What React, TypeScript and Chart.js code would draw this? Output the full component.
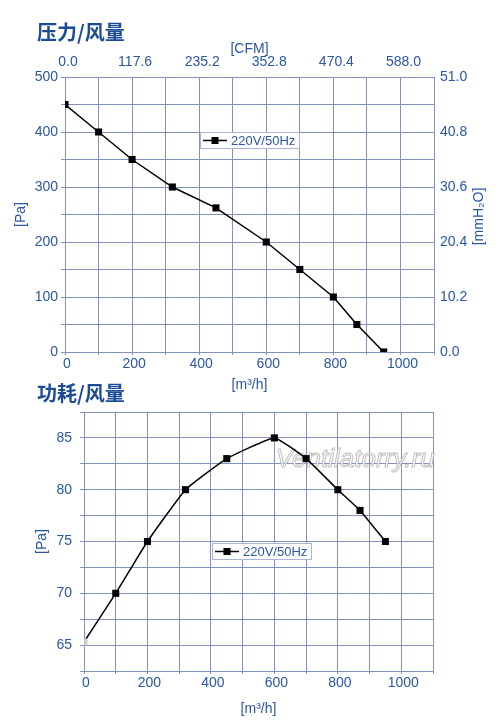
import React, { useEffect, useRef } from "react";
import { Chart, registerables } from "chart.js";

Chart.register(...registerables);

// ---------- data ----------
const pressureFlowM3h = [0, 100, 200, 320, 450, 600, 700, 800, 870, 950];
const pressurePa = [450, 400, 350, 300, 262, 200, 150, 100, 50, 0];
const powerFlowM3h = [0, 100, 200, 320, 450, 600, 700, 800, 870, 950];
const powerValues = [65.3, 70, 75, 80, 83, 85, 83, 80, 78, 75];
const seriesLabel = "220V/50Hz";
const cfmTickPositionsM3h = [0, 200, 400, 600, 800, 1000];
const cfmTickLabels = ["0.0", "117.6", "235.2", "352.8", "470.4", "588.0"];
const mmH2OTicks = [0, 10.2, 20.4, 30.6, 40.8, 51.0];

// ---------- styles ----------
const FONT = '"Liberation Sans", Arial, Helvetica, sans-serif';
const TICK_COLOR = "#2a56a6";
const TITLE_COLOR = "#1c4b98";
const GRID_COLOR = "#8391bd";

const legendBoxPlugin = {
  id: "legendBox",
  afterDraw(chart: any, _args: any, opts: any) {
    const { ctx, chartArea: a } = chart;
    const ds = chart.data.datasets[0];
    const x = Math.round(a.left + opts.fx * (a.right - a.left));
    const y = Math.round(a.top + opts.fy * (a.bottom - a.top));
    ctx.save();
    ctx.font = `13px ${FONT}`;
    const tw = ctx.measureText(ds.label).width;
    const w = Math.round(3 + 24 + 4 + tw + 4);
    const h = 16;
    ctx.fillStyle = "#ffffff";
    ctx.fillRect(x, y, w, h);
    ctx.strokeStyle = "#a8b6da";
    ctx.lineWidth = 1;
    ctx.strokeRect(x + 0.5, y + 0.5, w, h);
    ctx.strokeStyle = "#000";
    ctx.lineWidth = 1.5;
    ctx.beginPath();
    ctx.moveTo(x + 3, y + h / 2 + 0.5);
    ctx.lineTo(x + 27, y + h / 2 + 0.5);
    ctx.stroke();
    ctx.fillStyle = "#000";
    ctx.fillRect(x + 15 - 3.5, y + h / 2 + 0.5 - 3.5, 7, 7);
    ctx.fillStyle = TICK_COLOR;
    ctx.textBaseline = "middle";
    ctx.textAlign = "left";
    ctx.fillText(ds.label, x + 31, y + h / 2 + 1);
    ctx.restore();
  },
};

const rightTitlePlugin = {
  id: "rightTitle",
  afterDraw(chart: any, _args: any, opts: any) {
    if (!opts || !opts.text) return;
    const { ctx, chartArea: a } = chart;
    ctx.save();
    ctx.translate(a.right + opts.offset, (a.top + a.bottom) / 2 + 2);
    ctx.rotate(-Math.PI / 2);
    ctx.font = `14px ${FONT}`;
    ctx.fillStyle = TICK_COLOR;
    ctx.textAlign = "center";
    ctx.textBaseline = "middle";
    ctx.fillText(opts.text, 0, 0);
    ctx.restore();
  },
};

const watermarkPlugin = {
  id: "watermark",
  beforeDatasetsDraw(chart: any, _args: any, opts: any) {
    if (!opts || !opts.text) return;
    const { ctx, chartArea: a } = chart;
    const x = a.left + opts.fx * (a.right - a.left);
    const y = a.top + opts.fy * (a.bottom - a.top);
    ctx.save();
    ctx.font = `italic 26px ${FONT}`;
    ctx.textAlign = "center";
    ctx.textBaseline = "middle";
    ctx.fillStyle = "rgba(255,255,255,0.85)";
    ctx.fillText(opts.text, x, y);
    ctx.strokeStyle = "rgba(150,150,150,0.6)";
    ctx.lineWidth = 1;
    ctx.strokeText(opts.text, x, y);
    ctx.restore();
  },
};

const tickFont = { family: FONT, size: 14 };

function xAxisM3h(height: number, titlePadTop: number) {
  return {
    type: "linear",
    position: "bottom",
    min: 0,
    max: 1100,
    afterFit: (s: any) => {
      s.height = height;
    },
    ticks: {
      stepSize: 100,
      autoSkip: false,
      maxRotation: 0,
      padding: 1,
      labelOffset: 2,
      color: TICK_COLOR,
      font: tickFont,
      callback: (v: number) => (v % 200 === 0 && v <= 1000 ? String(v) : ""),
    },
    grid: { color: GRID_COLOR, lineWidth: 1, tickLength: 3, drawTicks: true },
    border: { display: true, color: GRID_COLOR },
    title: {
      display: true,
      text: "[m³/h]",
      color: TICK_COLOR,
      font: tickFont,
      padding: { top: titlePadTop, bottom: 0 },
    },
  };
}

function PressureChart() {
  const ref = useRef<HTMLCanvasElement | null>(null);
  useEffect(() => {
    if (!ref.current) return;
    const chart = new Chart(ref.current, {
      type: "line",
      data: {
        datasets: [
          {
            label: seriesLabel,
            data: pressureFlowM3h.map((x, i) => ({ x, y: pressurePa[i] })),
            borderColor: "#000",
            borderWidth: 1.5,
            backgroundColor: "#000",
            pointStyle: "rect",
            pointRadius: 5,
            pointBorderWidth: 0,
            pointBackgroundColor: "#000",
            tension: 0,
            yAxisID: "y",
            xAxisID: "x",
          },
        ],
      },
      options: {
        responsive: false,
        animation: false,
        events: [],
        layout: { padding: { top: 37, left: 0, right: 0, bottom: 0 } },
        plugins: {
          legend: { display: false },
          tooltip: { enabled: false },
          legendBox: { fx: 0.366, fy: 0.2 },
          rightTitle: { text: "[mmH₂O]", offset: 45 },
        } as any,
        scales: {
          x: xAxisM3h(42, 5) as any,
          x2: {
            type: "linear",
            position: "top",
            min: 0,
            max: 1100,
            afterFit: (s: any) => {
              s.height = 40;
            },
            afterBuildTicks: (s: any) => {
              s.ticks = cfmTickPositionsM3h.map((v) => ({ value: v }));
            },
            ticks: {
              autoSkip: false,
              maxRotation: 0,
              padding: 6,
              labelOffset: 3,
              color: TICK_COLOR,
              font: tickFont,
              callback: (_v: number, i: number) => cfmTickLabels[i],
            },
            grid: { display: false, drawTicks: false },
            border: { display: false },
            title: {
              display: true,
              text: "[CFM]",
              color: TICK_COLOR,
              font: tickFont,
              padding: { top: 4, bottom: 0 },
            },
          } as any,
          y: {
            type: "linear",
            position: "left",
            min: 0,
            max: 500,
            afterFit: (s: any) => {
              s.width = 65;
            },
            ticks: {
              stepSize: 50,
              autoSkip: false,
              padding: 3,
              color: TICK_COLOR,
              font: tickFont,
              callback: (v: number) => (v % 100 === 0 ? String(v) : ""),
            },
            grid: { color: GRID_COLOR, lineWidth: 1, tickLength: 4 },
            border: { display: true, color: GRID_COLOR },
            title: {
              display: true,
              text: "[Pa]",
              color: TICK_COLOR,
              font: tickFont,
              padding: { top: 13, bottom: 0 },
            },
          } as any,
          y2: {
            type: "linear",
            position: "right",
            min: 0,
            max: 51,
            afterFit: (s: any) => {
              s.width = 66;
            },
            afterBuildTicks: (s: any) => {
              s.ticks = mmH2OTicks.map((v) => ({ value: v }));
            },
            ticks: {
              autoSkip: false,
              padding: 6,
              color: TICK_COLOR,
              font: tickFont,
              callback: (v: number) => Number(v).toFixed(1),
            },
            grid: { display: false, drawTicks: false },
            border: { display: false },
          } as any,
        },
      },
      plugins: [legendBoxPlugin, rightTitlePlugin],
    } as any);
    return () => chart.destroy();
  }, []);
  return (
    <canvas
      ref={ref}
      width={500}
      height={394}
      style={{ position: "absolute", left: 0, top: 0, width: 500, height: 394 }}
    />
  );
}

function PowerChart() {
  const ref = useRef<HTMLCanvasElement | null>(null);
  useEffect(() => {
    if (!ref.current) return;
    const chart = new Chart(ref.current, {
      type: "line",
      data: {
        datasets: [
          {
            label: seriesLabel,
            data: powerFlowM3h.map((x, i) => ({ x, y: powerValues[i] })),
            borderColor: "#000",
            borderWidth: 1.5,
            backgroundColor: "#000",
            pointStyle: "rect",
            pointRadius: 5,
            pointBorderWidth: 0,
            pointBackgroundColor: powerValues.map((_, i) => (i === 0 ? "#c9cedb" : "#000")),
            tension: 0.12,
          },
        ],
      },
      options: {
        responsive: false,
        animation: false,
        events: [],
        layout: { padding: { top: 18, left: 0, right: 67, bottom: 4 } },
        plugins: {
          legend: { display: false },
          tooltip: { enabled: false },
          legendBox: { fx: 0.367, fy: 0.506 },
          watermark: { text: "Ventilatorry.ru", fx: 0.777, fy: 0.185 },
        } as any,
        scales: {
          x: xAxisM3h(47, 4) as any,
          y: {
            type: "linear",
            position: "left",
            min: 62.5,
            max: 87.5,
            afterFit: (s: any) => {
              s.width = 84;
            },
            ticks: {
              stepSize: 2.5,
              autoSkip: false,
              padding: 8,
              color: TICK_COLOR,
              font: tickFont,
              callback: (v: number) => (v % 5 === 0 && v >= 65 && v <= 85 ? String(v) : ""),
            },
            grid: { color: GRID_COLOR, lineWidth: 1, tickLength: 4 },
            border: { display: true, color: GRID_COLOR },
            title: {
              display: true,
              text: "[Pa]",
              color: TICK_COLOR,
              font: tickFont,
              padding: { top: 34, bottom: 0 },
            },
          } as any,
        },
      },
      plugins: [watermarkPlugin, legendBoxPlugin],
    } as any);
    return () => chart.destroy();
  }, []);
  return (
    <canvas
      ref={ref}
      width={500}
      height={328}
      style={{ position: "absolute", left: 0, top: 394, width: 500, height: 328 }}
    />
  );
}

const titleStyle: React.CSSProperties = {
  position: "absolute",
  left: 37,
  margin: 0,
  font: 'bold 20px "Noto Sans CJK SC", sans-serif',
  lineHeight: "20px",
  color: TITLE_COLOR,
  whiteSpace: "nowrap",
};

export default function App() {
  return (
    <div
      style={{
        position: "absolute",
        left: 0,
        top: 0,
        width: 500,
        height: 722,
        background: "#ffffff",
        overflow: "hidden",
      }}
    >
      <PressureChart />
      <PowerChart />
      <div style={{ ...titleStyle, top: 22 }}>压力/风量</div>
      <div style={{ ...titleStyle, top: 383 }}>功耗/风量</div>
    </div>
  );
}
